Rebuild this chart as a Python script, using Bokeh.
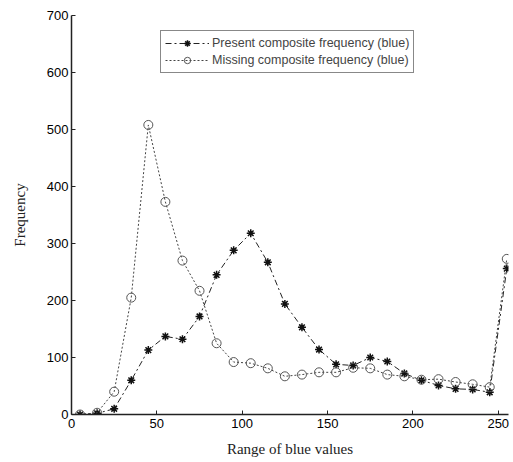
from bokeh.plotting import figure
from bokeh.models import Legend, LegendItem, Range1d, FixedTicker
from bokeh.embed import file_html
from bokeh.resources import INLINE

blue_values = [5, 15, 25, 35, 45, 55, 65, 75, 85, 95, 105, 115, 125, 135, 145,
               155, 165, 175, 185, 195, 205, 215, 225, 235, 245, 255]
present_freq = [0, 2, 10, 60, 113, 137, 132, 172, 245, 288, 318, 267, 194, 153, 114,
                88, 86, 100, 93, 72, 60, 51, 45, 44, 39, 256]
missing_freq = [0, 3, 40, 205, 508, 373, 270, 217, 125, 92, 90, 81, 67, 70, 74,
                74, 82, 81, 70, 67, 61, 62, 57, 53, 48, 273]
x_ticks = [0, 50, 100, 150, 200, 250]
y_ticks = [0, 100, 200, 300, 400, 500, 600, 700]

p = figure(width=513, height=462, output_backend="svg", toolbar_location=None,
           x_range=Range1d(0, 256), y_range=Range1d(0, 700),
           min_border_left=71, min_border_right=5, min_border_top=15, min_border_bottom=48)
p.outline_line_color = None
p.xgrid.visible = False
p.ygrid.visible = False
p.background_fill_color = "white"
p.border_fill_color = "white"

for ax in (p.xaxis, p.yaxis):
    ax.axis_line_color = "#222222"
    ax.axis_line_width = 1.5
    ax.major_tick_in = 4
    ax.major_tick_out = 0
    ax.minor_tick_line_color = None
    ax.major_tick_line_color = "#222222"
    ax.major_label_text_font = "Liberation Sans"
    ax.major_label_text_font_size = "13px"
    ax.major_label_text_font_style = "normal"
    ax.major_label_text_color = "#000000"
    ax.axis_label_text_font = "Liberation Serif"
    ax.axis_label_text_font_size = "15px"
    ax.axis_label_text_font_style = "normal"
    ax.axis_label_text_color = "#222222"

p.xaxis.ticker = FixedTicker(ticks=x_ticks)
p.yaxis.ticker = FixedTicker(ticks=y_ticks)
p.xaxis.axis_label = "Range of blue values"
p.yaxis.axis_label = "Frequency"
p.xaxis.major_label_standoff = 4
p.yaxis.major_label_standoff = 3
p.xaxis.axis_label_standoff = 10
p.yaxis.axis_label_standoff = 16

l1 = p.line(blue_values, present_freq, line_color="#222222", line_width=1, line_dash="6 3 2 3")
m1 = p.scatter(blue_values, present_freq, marker="asterisk", size=8, line_color="#111111", line_width=1.5)
l2 = p.line(blue_values, missing_freq, line_color="#444444", line_width=1, line_dash="2 2")
m2 = p.scatter(blue_values, missing_freq, marker="circle", size=9, line_color="#555555",
               fill_color=None, line_width=1)

legend = Legend(items=[
    LegendItem(label="Present composite frequency (blue)", renderers=[l1, m1]),
    LegendItem(label="Missing composite frequency (blue)", renderers=[l2, m2]),
], location=(89, 341))
legend.label_text_font = "Liberation Sans"
legend.label_text_font_size = "12.5px"
legend.label_height = 16
legend.glyph_height = 16
legend.glyph_width = 44
legend.spacing = 1
legend.padding = 4
legend.margin = 0
legend.label_standoff = 3
legend.border_line_color = "#111111"
legend.border_line_width = 1
legend.background_fill_alpha = 1
p.add_layout(legend, "center")

open("out.html", "w").write(file_html(p, INLINE))
